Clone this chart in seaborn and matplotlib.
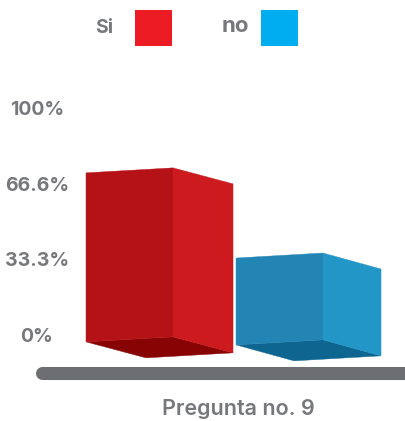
import matplotlib
matplotlib.use('Agg')
import matplotlib.pyplot as plt
from matplotlib.patches import Polygon, Rectangle
from matplotlib.transforms import IdentityTransform
import pandas as pd
import seaborn as sns

# values, bars start a little under the 0% mark
categories = ['Si', 'no']
values = [74.4, 36.9]
tick_values = [0, 33.3, 66.6, 100]
tick_labels = ['0%', '33.3%', '66.6%', '100%']
legend_colors = ['#ed1c24', '#00aeef']
left_faces = ['#b51218', '#2285b3']
right_faces = ['#cc1a1e', '#2396c8']
under_faces = ['#880404', '#0e6690']
bar_drop = [0, 3]
bar_depth = [60, 58]
grey = '#77787b'

W, H = 406, 421

sns.set_theme(style='white')
plt.rcParams['font.family'] = ['Inter', 'DejaVu Sans']

fig = plt.figure(figsize=(W / 100, H / 100), dpi=100)
ax = fig.add_axes([80 / W, 1 - 385 / H, 326 / W, 325 / H])

df = pd.DataFrame({'answer': categories, 'value': values})
sns.barplot(data=df, x='answer', y='value', hue='answer', palette=left_faces,
            width=0.58, bottom=-3, legend=False, ax=ax)

ax.set_xlim(-0.33, 1.843)
ax.set_ylim(-22.0, 121.1)
sns.despine(ax=ax, left=True, bottom=True)
ax.set_xticks([])
ax.set_yticks(tick_values)
ax.set_yticklabels(tick_labels, fontsize=14, fontweight='bold', color=grey, ha='center')
ax.tick_params(axis='y', length=0, pad=31)
ax.set_ylabel('')
ax.set_xlabel('Pregunta no. 9', fontsize=15.5, fontweight='semibold', color=grey, va='center')
ax.xaxis.set_label_coords((238 - 80) / 326, -24 / 325)

# turn the flat bars into the 3d boxes, working in pixels from each bar's corners
fig.canvas.draw()
for i, bar in enumerate(list(ax.patches)):
    x0, y0 = ax.transData.transform((bar.get_x(), bar.get_y()))
    x1, y1 = ax.transData.transform((bar.get_x() + bar.get_width(), bar.get_y() + bar.get_height()))
    y0 -= bar_drop[i]
    d = bar_depth[i]
    bar.remove()
    front = [(x0, y0), (x0, y1), (x1, y1 + 5), (x1, y0 + 5)]
    side = [(x1, y0 + 5), (x1, y1 + 5), (x1 + d, y1 - 11), (x1 + d, y0 - 11)]
    under = [(x0, y0), (x1, y0 + 5), (x1 + d, y0 - 11), (x0 + d, y0 - 16)]
    for pts, col in [(under, under_faces[i]), (front, left_faces[i]), (side, right_faces[i])]:
        ax.add_patch(Polygon(pts, closed=True, facecolor=col, edgecolor=col, lw=0.3,
                             transform=IdentityTransform(), clip_on=False))

# thick grey floor running off the right edge
ax.plot([42 / W, 1.05], [1 - 373 / H, 1 - 373 / H], color='#6d6e71', lw=9.4,
        solid_capstyle='round', transform=fig.transFigure, clip_on=False)

# legend along the top
for label, col, tx, ty, bx, fs in zip(categories, legend_colors, [104, 235], [28, 26], [135, 261], [14, 16]):
    fig.text(tx / W, 1 - ty / H, label, fontsize=fs, fontweight='bold', color=grey,
             ha='center', va='center')
    fig.add_artist(Rectangle((bx / W, 1 - 46 / H), 37 / W, 36 / H, facecolor=col,
                             edgecolor='none', transform=fig.transFigure))

fig.savefig('out.png', dpi=100)
